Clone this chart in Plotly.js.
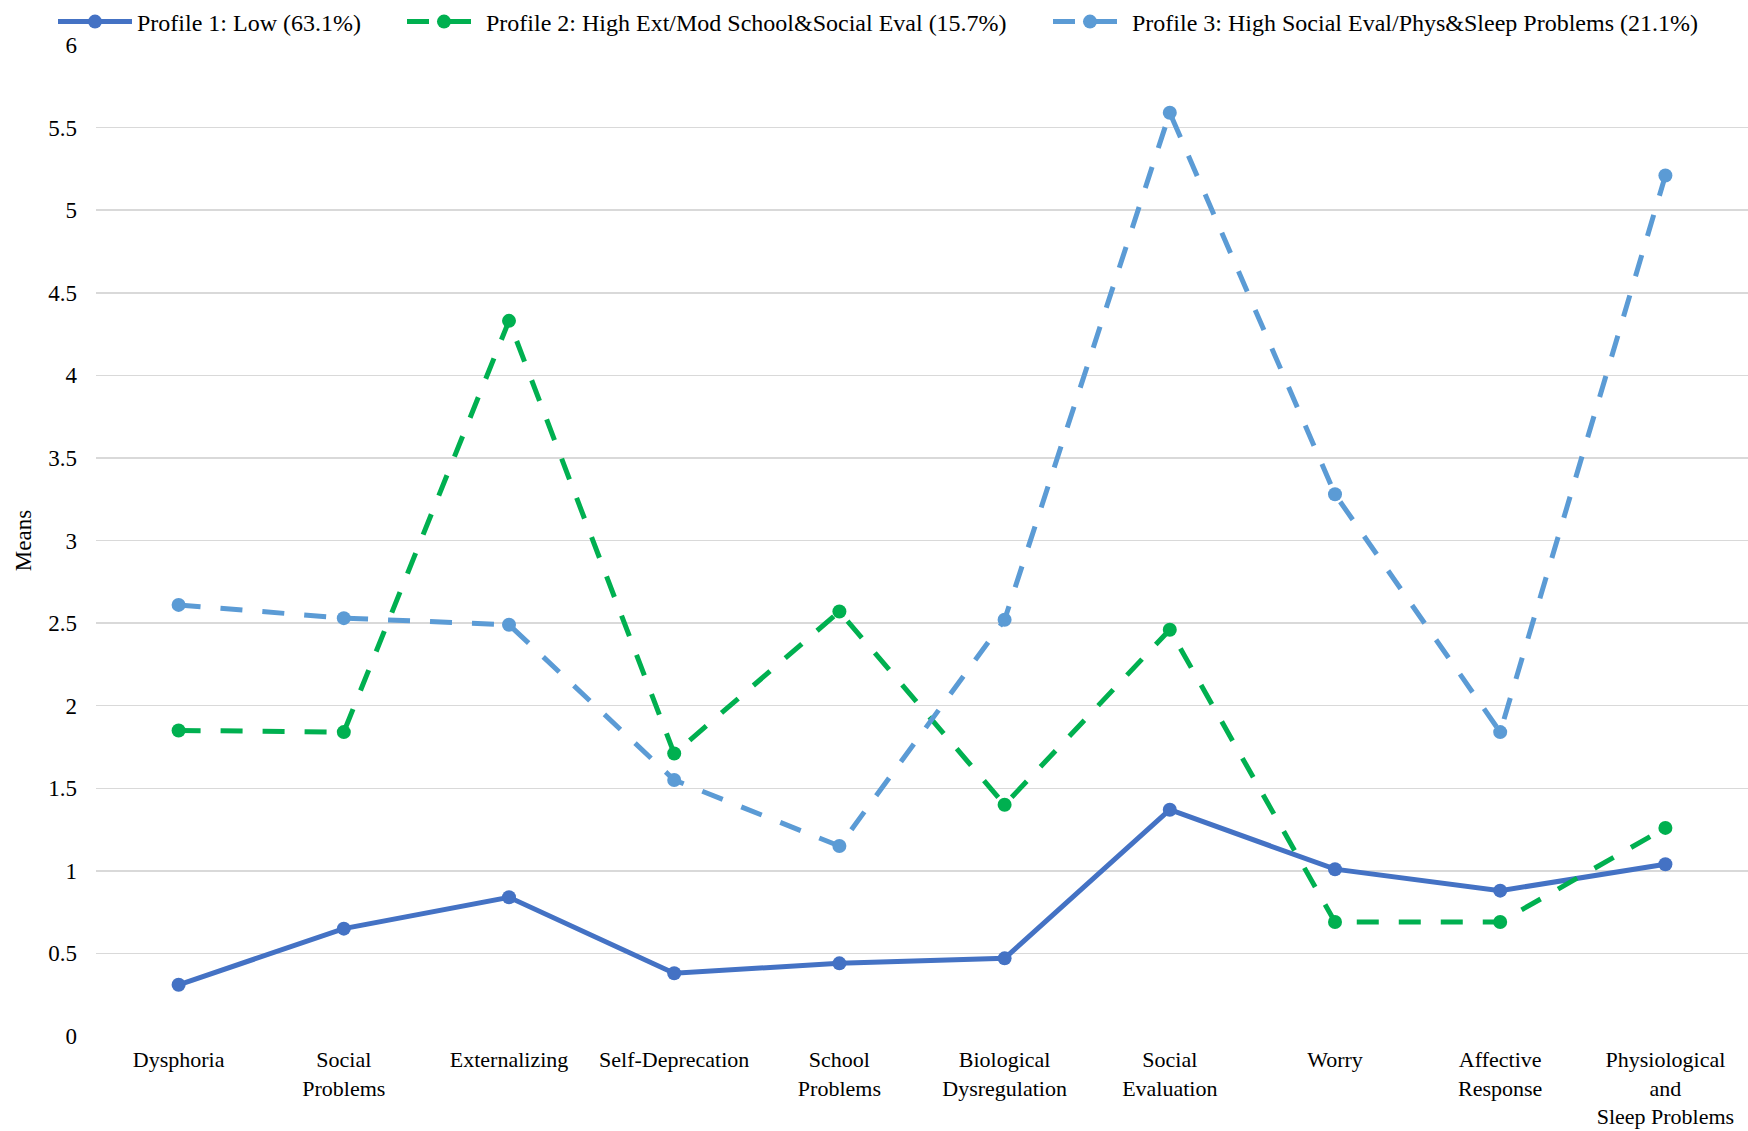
<!DOCTYPE html>
<html>
<head>
<meta charset="utf-8">
<script src="https://cdn.plot.ly/plotly-3.0.1.min.js"></script>
<style>html,body{margin:0;padding:0;background:#fff;}#chart{width:1748px;height:1131px;}</style>
</head>
<body>
<div id="chart"></div>
<script>
const categories = ["Dysphoria","Social<br>Problems","Externalizing","Self-Deprecation","School<br>Problems","Biological<br>Dysregulation","Social<br>Evaluation","Worry","Affective<br>Response","Physiological<br>and<br>Sleep Problems"];
const profile1 = [0.31,0.65,0.84,0.38,0.44,0.47,1.37,1.01,0.88,1.04];
const profile2 = [1.85,1.84,4.33,1.71,2.57,1.40,2.46,0.69,0.69,1.26];
const profile3 = [2.61,2.53,2.49,1.55,1.15,2.52,5.59,3.28,1.84,5.21];
const seriesNames = ["Profile 1: Low (63.1%)","Profile 2: High Ext/Mod School&Social Eval (15.7%)","Profile 3: High Social Eval/Phys&Sleep Problems (21.1%)"];
const yTicks = [0,0.5,1,1.5,2,2.5,3,3.5,4,4.5,5,5.5,6];

const font = "Liberation Serif";
const idx = categories.map((_, i) => i);

function trace(vals, name, color, dash, leg) {
  return {
    x: idx, y: vals, name: name, type: "scatter", mode: "lines+markers",
    line: {color: color, width: 5, dash: dash},
    marker: {color: color, size: 14},
    legend: leg
  };
}

const data = [
  trace(profile1, seriesNames[0], "#4472C4", "solid", "legend"),
  trace(profile2, seriesNames[1], "#00B050", "22px,20px", "legend2"),
  trace(profile3, seriesNames[2], "#5B9BD5", "22px,20px", "legend3")
];

function leg(px) {
  return {orientation: "h", x: px/1748, xanchor: "left", xref: "container",
          y: 1 - 22/1131, yref: "container", yanchor: "middle",
          font: {family: font, size: 24, color: "#000"}, itemwidth: 74, bgcolor: "rgba(0,0,0,0)"};
}

const layout = {
  width: 1748, height: 1131,
  margin: {l: 96, r: 0, t: 45, b: 95},
  paper_bgcolor: "#fff", plot_bgcolor: "#fff",
  font: {family: font, size: 24, color: "#000"},
  showlegend: true,
  legend: leg(53),
  legend2: leg(402),
  legend3: leg(1048),
  xaxis: {
    range: [-0.5, 9.5], tickmode: "array", tickvals: idx, ticktext: categories,
    showgrid: false, zeroline: false, showline: false, ticks: "",
    tickfont: {family: font, size: 22, color: "#000"}, ticklabelstandoff: 8
  },
  yaxis: {
    range: [0, 6], tickmode: "array", tickvals: yTicks, ticktext: yTicks.map(String),
    showgrid: true, gridcolor: "#d9d9d9", gridwidth: 1.5, zeroline: false, showline: false, ticks: "",
    tickfont: {family: font, size: 23, color: "#000"}, ticklabelstandoff: 18,
    title: {text: "Means", font: {family: font, size: 23, color: "#000"}, standoff: 10}
  }
};

Plotly.newPlot("chart", data, layout, {displayModeBar: false, staticPlot: true});
</script>
</body>
</html>
